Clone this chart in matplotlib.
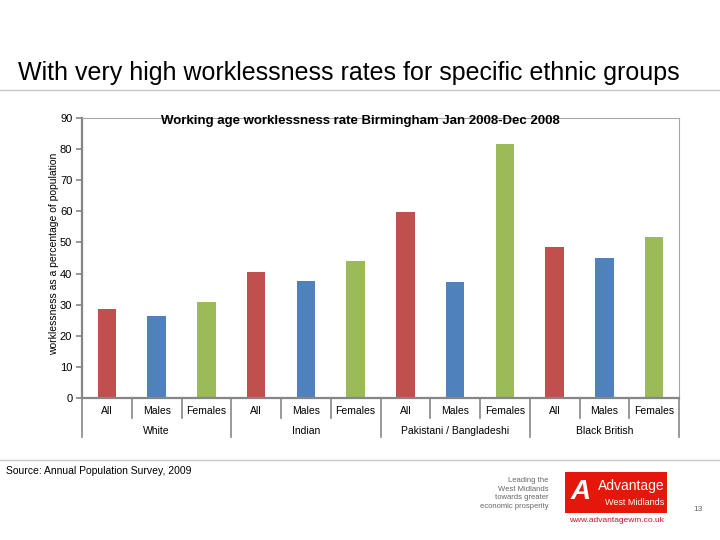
import numpy as np
import matplotlib.pyplot as plt
from matplotlib.patches import Rectangle
from matplotlib.lines import Line2D

plt.rcParams['font.family'] = ['Liberation Sans', 'DejaVu Sans']

groups = ['White', 'Indian', 'Pakistani / Bangladeshi', 'Black British']
subgroups = ['All', 'Males', 'Females']
values = [
    [28.6, 26.4, 30.9],
    [40.6, 37.6, 44.0],
    [59.8, 37.3, 81.8],
    [48.6, 45.0, 51.9],
]
colors = ['#C0504D', '#4F81BD', '#9BBB59']

fig = plt.figure(figsize=(7.2, 5.4), dpi=100)

# slide title and rules
fig.text(0.025, 0.864, 'With very high worklessness rates for specific ethnic groups',
         fontsize=18, ha='left', va='center', color='black')
fig.add_artist(Line2D([0, 1], [0.833, 0.833], color='#C8C8C8', lw=1))
fig.add_artist(Line2D([0, 1], [0.148, 0.148], color='#C8C8C8', lw=1))

ax = fig.add_axes([0.1139, 0.263, 0.8292, 0.5185])

n_sub = len(subgroups)
labels = []
for gi, g in enumerate(groups):
    for si, s in enumerate(subgroups):
        x = gi * n_sub + si
        ax.bar(x, values[gi][si], width=0.37, color=colors[si], zorder=2)
        labels.append(s)

n = len(labels)
ax.set_xlim(-0.5, n - 0.5)
ax.set_ylim(0, 90)
ax.set_yticks(np.arange(0, 91, 10))
ax.tick_params(axis='y', labelsize=8, length=4, width=1.2, color='#868686', pad=3)
ax.set_xticks(np.arange(n))
ax.set_xticklabels(labels, fontsize=7.5)
ax.tick_params(axis='x', length=0, pad=6)

for side in ['left', 'bottom']:
    ax.spines[side].set_color('#868686')
    ax.spines[side].set_linewidth(1.6)
for side in ['top', 'right']:
    ax.spines[side].set_color('#A6A6A6')
    ax.spines[side].set_linewidth(0.8)

# multi-level category separators
trans = ax.get_xaxis_transform()
for i in range(n + 1):
    x = i - 0.5
    long_tick = (i % n_sub == 0)
    y_end = -0.139 if long_tick else -0.071
    ax.plot([x, x], [0, y_end], transform=trans, color='#868686', lw=1.2,
            clip_on=False)
for gi, g in enumerate(groups):
    ax.text(gi * n_sub + 1, -0.118, g, transform=trans, ha='center', va='center',
            fontsize=7.5)

ax.set_ylabel('worklessness as a percentage of population', fontsize=7.5)
ax.yaxis.set_label_coords(-0.039, 0.515)
fig.text(0.501, 0.776, 'Working age worklessness rate Birmingham Jan 2008-Dec 2008',
         fontsize=9.5, fontweight='bold', ha='center', va='center')

# footer
fig.text(0.008, 0.127, 'Source: Annual Population Survey, 2009', fontsize=7.5,
         ha='left', va='center')
fig.text(0.762, 0.086, 'Leading the\nWest Midlands\ntowards greater\neconomic prosperity',
         fontsize=5.5, ha='right', va='center', color='#666666', linespacing=1.3)
fig.add_artist(Rectangle((0.785, 0.05), 0.142, 0.076, transform=fig.transFigure,
                         facecolor='#E3170A', edgecolor='none'))
fig.text(0.792, 0.088, 'A', fontsize=20, fontstyle='italic', fontweight='bold',
         color='white', ha='left', va='center')
fig.text(0.923, 0.100, 'Advantage', fontsize=10, color='white', ha='right', va='center')
fig.text(0.923, 0.070, 'West Midlands', fontsize=6.5, color='white', ha='right', va='center')
fig.text(0.856, 0.036, 'www.advantagewm.co.uk', fontsize=6, color='#C8102E',
         ha='center', va='center')
fig.text(0.97, 0.056, '13', fontsize=6, color='#666666', ha='center', va='center')

fig.savefig('out.png', dpi=100)
